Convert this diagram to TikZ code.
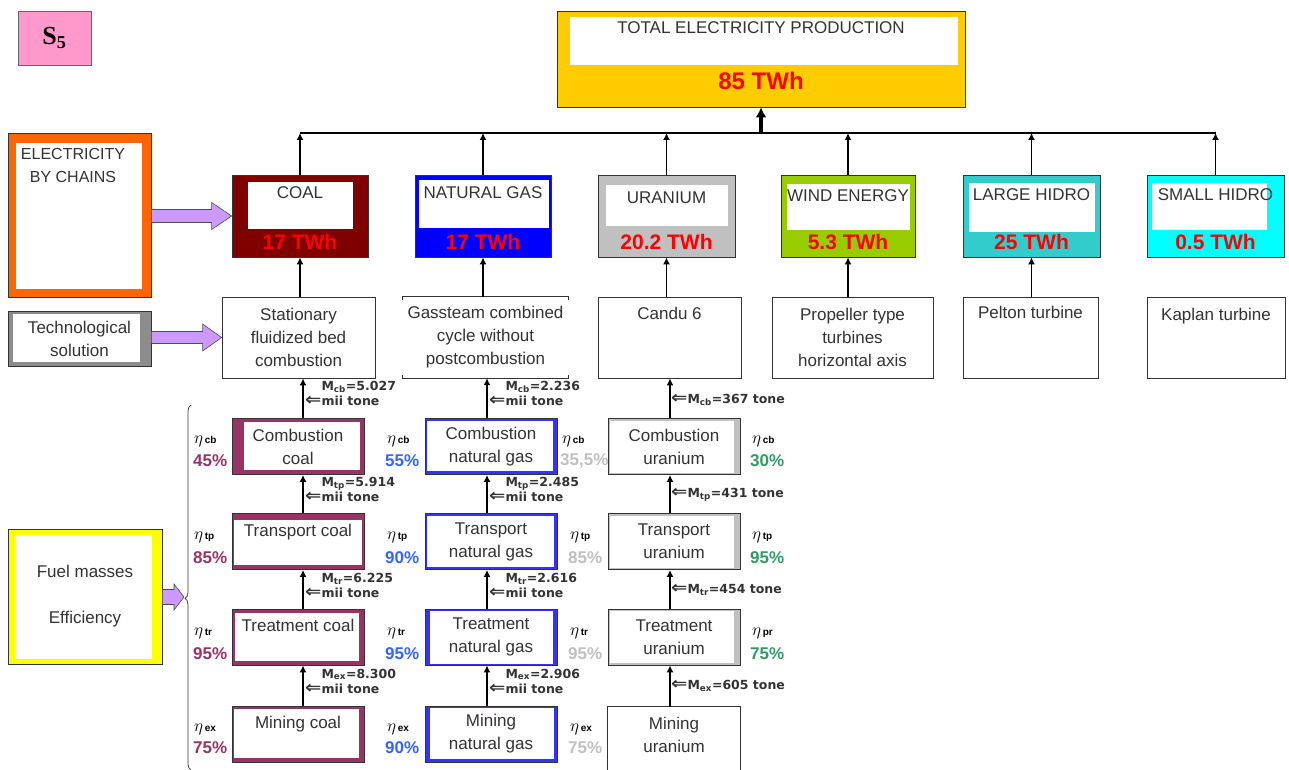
\documentclass[tikz,border=0pt]{standalone}
\usepackage{fontspec}
\setmainfont{Liberation Sans}
\newfontfamily\serifface{Liberation Serif}
\newfontfamily\massface{DejaVu Sans}
\usetikzlibrary{positioning,calc,decorations.pathreplacing,arrows.meta}

\definecolor{spink}{HTML}{FF99CC}
\definecolor{totgold}{HTML}{FFCC00}
\definecolor{coalred}{HTML}{800000}
\definecolor{gasblue}{HTML}{0000FF}
\definecolor{urangray}{HTML}{C0C0C0}
\definecolor{windgreen}{HTML}{99CC00}
\definecolor{lhteal}{HTML}{33CCCC}
\definecolor{shcyan}{HTML}{00FFFF}
\definecolor{elecorange}{HTML}{FF6600}
\definecolor{fuelyel}{HTML}{FFFF00}
\definecolor{lilac}{HTML}{CC99FF}
\definecolor{chmaroon}{HTML}{993366}
\definecolor{chblue}{HTML}{3333FF}
\definecolor{effblue}{HTML}{3366FF}
\definecolor{effgreen}{HTML}{339966}
\definecolor{textgray}{HTML}{333333}

\newcommand{\txt}{\fontsize{17}{23}\selectfont}
% fat lilac arrow: from, to, head length, shaft half height, head half height
\newcommand{\fatarrow}[5]{\draw[fat] let \p1=(#1), \p2=(#2) in (\x1,\y2+#4) -- (\x2-#3,\y2+#4) -- (\x2-#3,\y2+#5) -- (\x2,\y2) -- (\x2-#3,\y2-#5) -- (\x2-#3,\y2-#4) -- (\x1,\y2-#4) -- cycle;}
\newcommand{\hollow}{{\fontsize{13}{12}\selectfont\scalebox{1.5}[1.3]{⇐}}}
\newcommand{\mtwo}[2]{\phantom{\hollow}M\textsubscript{#1}=#2\\\hollow mii tone}
\newcommand{\mone}[2]{\hollow M\textsubscript{#1}=#2 tone}
\newcommand{\etasub}[1]{{\fontsize{18}{18}\selectfont$\eta$}\,{\fontsize{10}{10}\selectfont\bfseries #1}}

\begin{document}
\begin{tikzpicture}[x=1pt,y=-1pt,
  box/.style={draw=black!80, line width=0.8pt, inner sep=0pt},
  inset/.style args={#1/#2/#3/#4}{path picture={\fill[white] ($(path picture bounding box.north west)+(#1pt,-#2pt)$) rectangle ($(path picture bounding box.south east)+(-#3pt,#4pt)$);}},
  lab/.style={inner sep=0pt, font=\txt, text=textgray},
  value/.style={inner sep=0pt, font=\fontsize{21}{21}\bfseries, text=red},
  techbox/.style={box, fill=white, minimum height=81, align=center, font=\txt, text=textgray},
  chain/.style={box, minimum width=132, minimum height=56, align=center, font=\txt, text=textgray},
  link/.style={line width=1.6pt, -{Latex[length=7pt,width=7pt]}},
  busline/.style={line width=2.2pt},
  bigarrow/.style={line width=3.2pt, -{Latex[length=10pt,width=11pt]}},
  fat/.style={draw=black!70, line width=0.6pt, fill=lilac},
  mass/.style={inner sep=0pt, anchor=west, align=left, font=\massface\fontsize{12.5}{15}\bfseries, text=textgray},
  effname/.style={inner sep=0pt, anchor=west, text=black},
  effval/.style={inner sep=0pt, anchor=west, font=\fontsize{17}{17}\bfseries}]
\useasboundingbox (0,0) rectangle (1289,770);

% scenario and total
\node[box, draw=black!60, fill=spink, minimum width=73, minimum height=54] (sfive) at (54.5,38) {\serifface\bfseries\fontsize{26}{26}\selectfont S\textsubscript{5}};
\node[box, fill=totgold, inset=13/6/7/42, minimum width=408, minimum height=96] (total) at (761,59) {};
\node[lab, below=11pt of total.north] {TOTAL ELECTRICITY PRODUCTION};
\node[value, font=\fontsize{24}{24}\bfseries, above=17pt of total.south] {85 TWh};

% sources
\node[box, fill=coalred, inset=16/7/15/28, minimum width=136, minimum height=82] (coal) at (300,216) {};
\node[lab, below=12pt of coal.north] {COAL};
\node[value, above=7.5pt of coal.south] {17 TWh};
\node[box, fill=gasblue, inset=4/5/2/29, minimum width=136, minimum height=82] (gas) at (483,216) {};
\node[lab, below=12pt of gas.north] {NATURAL GAS};
\node[value, above=7.5pt of gas.south] {17 TWh};
\node[box, fill=urangray, inset=8/10/7/31, minimum width=137, minimum height=82] (uran) at (666.5,216) {};
\node[lab, below=17pt of uran.north] {URANIUM};
\node[value, above=7.5pt of uran.south] {20.2 TWh};
\node[box, fill=windgreen, inset=6/9/5/27, minimum width=134, minimum height=82] (wind) at (848,216) {};
\node[lab, below=15pt of wind.north] {WIND ENERGY};
\node[value, above=7.5pt of wind.south] {5.3 TWh};
\node[box, fill=lhteal, inset=6/8/5/25, minimum width=137, minimum height=82] (lhydro) at (1031.5,216) {};
\node[lab, below=14pt of lhydro.north] {LARGE HIDRO};
\node[value, above=7.5pt of lhydro.south] {25 TWh};
\node[box, fill=shcyan, inset=5/8/17/27, minimum width=137, minimum height=82] (shydro) at (1215.5,216) {};
\node[lab, below=14pt of shydro.north] {SMALL HIDRO};
\node[value, above=7.5pt of shydro.south] {0.5 TWh};

\coordinate (bus) at (761,133);
\draw[busline] (coal.north |- bus) -- (shydro.north |- bus);
\draw[bigarrow] (bus) -- (total.south);
\foreach \src in {coal,gas,uran,wind,lhydro,shydro}
  \draw[link] (\src.north) -- (\src.north |- bus);

% technologies
\node[techbox, minimum width=153] (tech1) at (298.5,337.5) {Stationary\\fluidized bed\\combustion};
\node[inner sep=0pt, minimum width=165, minimum height=81, align=center, font=\txt, text=textgray] (tech2) at (485.5,337.5) {Gassteam combined\\cycle without\\postcombustion};
\draw[line width=0.8pt, draw=black!80] ([yshift=-3pt]tech2.north west) -- (tech2.north west) -- (tech2.north east) -- ([yshift=-3pt]tech2.north east);
\draw[line width=0.8pt, draw=black!80] ([yshift=3pt]tech2.south west) -- (tech2.south west) -- (tech2.south east) -- ([yshift=3pt]tech2.south east);
\node[techbox, minimum width=143] (tech3) at (669.5,337.5) {};
\node[lab, below=10pt of tech3.north] {Candu 6};
\node[techbox, minimum width=161] (tech4) at (852.5,337.5) {Propeller type\\turbines\\horizontal axis};
\node[techbox, minimum width=135] (tech5) at (1030.5,337.5) {};
\node[lab, below=9pt of tech5.north] {Pelton turbine};
\node[techbox, minimum width=138] (tech6) at (1216,337.5) {};
\node[lab, below=11pt of tech6.north] {Kaplan turbine};

\draw[link] (coal.south |- tech1.north) -- (coal.south);
\draw[link] (gas.south |- tech2.north) -- (gas.south);
\draw[link] (uran.south |- tech3.north) -- (uran.south);
\draw[link] (wind.south |- tech4.north) -- (wind.south);
\draw[link] (lhydro.south |- tech5.north) -- (lhydro.south);

% legend on the left
\node[box, fill=elecorange, inset=8/10/9/8, minimum width=143, minimum height=164] (elec) at (79.5,215) {};
\node[lab, font=\fontsize{16}{23}\selectfont, align=center, anchor=north] at (73,148) {ELECTRICITY\\BY CHAINS};
\node[box, fill=black!45, inset=5/3/11/4, minimum width=143, minimum height=55, align=center, font=\txt, text=textgray] (techsol) at (79.5,338.5) {Technological\\solution};
\node[box, fill=fuelyel, inset=7/6/10/5, minimum width=154, minimum height=135, align=center, font=\txt, text=textgray] (fuel) at (85,596.5) {Fuel masses\\[23pt]Efficiency};
\draw[decorate, decoration={brace, amplitude=6pt, aspect=0.47}, line width=0.7pt, draw=black!80] (191,770) -- (191,405);
\coordinate (bracetip) at (184,597);
\fatarrow{elec.east}{coal.west}{20pt}{6.5pt}{13.5pt}
\fatarrow{techsol.east}{tech1.west}{19pt}{6pt}{13.5pt}
\fatarrow{fuel.east}{bracetip}{10pt}{7.5pt}{13pt}

% efficiencies
\node[effname] at (194,441) {\etasub{cb}};
\node[effval, text=chmaroon] at (193,461) {45\%};
\node[effname] at (194,537) {\etasub{tp}};
\node[effval, text=chmaroon] at (193,558) {85\%};
\node[effname] at (194,633) {\etasub{tr}};
\node[effval, text=chmaroon] at (193,654) {95\%};
\node[effname] at (194,729) {\etasub{ex}};
\node[effval, text=chmaroon] at (193,748) {75\%};
\node[effname] at (387,441) {\etasub{cb}};
\node[effval, text=effblue] at (385,461) {55\%};
\node[effname] at (387,537) {\etasub{tp}};
\node[effval, text=effblue] at (385,558) {90\%};
\node[effname] at (387,633) {\etasub{tr}};
\node[effval, text=effblue] at (385,654) {95\%};
\node[effname] at (387,729) {\etasub{ex}};
\node[effval, text=effblue] at (385,748) {90\%};
\node[effname] at (562,441) {\etasub{cb}};
\node[effval, text=urangray] at (560,461) {35,5\%};
\node[effname] at (570,537) {\etasub{tp}};
\node[effval, text=urangray] at (568,558) {85\%};
\node[effname] at (570,633) {\etasub{tr}};
\node[effval, text=urangray] at (568,654) {95\%};
\node[effname] at (570,729) {\etasub{ex}};
\node[effval, text=urangray] at (568,748) {75\%};
\node[effname] at (752,441) {\etasub{cb}};
\node[effval, text=effgreen] at (750,461) {30\%};
\node[effname] at (752,537) {\etasub{tp}};
\node[effval, text=effgreen] at (750,558) {95\%};
\node[effname] at (752,633) {\etasub{pr}};
\node[effval, text=effgreen] at (750,654) {75\%};

% coal chain
\node[chain, fill=chmaroon, inset=12/3/4/5] (ccomb) at (298,446.5) {Combustion\\coal};
\node[chain, fill=chmaroon, inset=2/6/2/5] (ctrans) at (298,541.5) {Transport coal\\~};
\node[chain, fill=chmaroon, inset=3/4/5/4] (ctreat) at (298,637) {Treatment coal\\~};
\node[chain, fill=chmaroon, inset=2/3/5/4] (cmine) at (298,734) {Mining coal\\~};
% gas chain
\node[chain, fill=chblue, inset=2/2/4/4] (gcomb) at (491,446.5) {Combustion\\natural gas};
\node[chain, fill=chblue, inset=2/2/3/3] (gtrans) at (491,541.5) {Transport\\natural gas};
\node[chain, fill=chblue, inset=5/2/4/1] (gtreat) at (491,637) {Treatment\\natural gas};
\node[chain, fill=chblue, inset=5/2/3/3] (gmine) at (491,734) {Mining\\natural gas};
% uranium chain
\node[chain, fill=urangray, inset=2/2/6/2] (ucomb) at (674,446.5) {Combustion\\uranium};
\node[chain, fill=urangray, inset=2/2/6/2] (utrans) at (674,541.5) {Transport\\uranium};
\node[chain, fill=urangray, inset=2/2/6/2] (utreat) at (674,637) {Treatment\\uranium};
\node[chain, draw=none] (umine) at (674,735) {Mining\\uranium};
\draw[line width=0.8pt, draw=black!80] ([yshift=-12pt]umine.south west) -- (umine.north west) -- (umine.north east) -- ([yshift=-12pt]umine.south east);

\draw[link] ([xshift=5pt]ccomb.north) -- ([xshift=5pt]ccomb.north |- tech1.south);
\draw[link] ([xshift=5pt]ctrans.north) -- ([xshift=5pt]ccomb.south);
\draw[link] ([xshift=5pt]ctreat.north) -- ([xshift=5pt]ctrans.south);
\draw[link] ([xshift=5pt]cmine.north) -- ([xshift=5pt]ctreat.south);
\draw[link] ([xshift=-4pt]gcomb.north) -- ([xshift=-4pt]gcomb.north |- tech2.south);
\draw[link] ([xshift=-4pt]gtrans.north) -- ([xshift=-4pt]gcomb.south);
\draw[link] ([xshift=-4pt]gtreat.north) -- ([xshift=-4pt]gtrans.south);
\draw[link] ([xshift=-4pt]gmine.north) -- ([xshift=-4pt]gtreat.south);
\draw[link] ([xshift=-4pt]ucomb.north) -- ([xshift=-4pt]ucomb.north |- tech3.south);
\draw[link] ([xshift=-4pt]utrans.north) -- ([xshift=-4pt]ucomb.south);
\draw[link] ([xshift=-4pt]utreat.north) -- ([xshift=-4pt]utrans.south);
\draw[link] ([xshift=-4pt]umine.north) -- ([xshift=-4pt]utreat.south);

% fuel masses
\node[mass] at (305,393) {\mtwo{cb}{5.027}};
\node[mass] at (305,489) {\mtwo{tp}{5.914}};
\node[mass] at (305,585) {\mtwo{tr}{6.225}};
\node[mass] at (305,681) {\mtwo{ex}{8.300}};
\node[mass] at (489,393) {\mtwo{cb}{2.236}};
\node[mass] at (489,489) {\mtwo{tp}{2.485}};
\node[mass] at (489,585) {\mtwo{tr}{2.616}};
\node[mass] at (489,681) {\mtwo{ex}{2.906}};
\node[mass] at (671,400) {\mone{cb}{367}};
\node[mass] at (671,495) {\mone{tp}{431}};
\node[mass] at (671,590) {\mone{tr}{454}};
\node[mass] at (671,686) {\mone{ex}{605}};
\end{tikzpicture}
\end{document}
